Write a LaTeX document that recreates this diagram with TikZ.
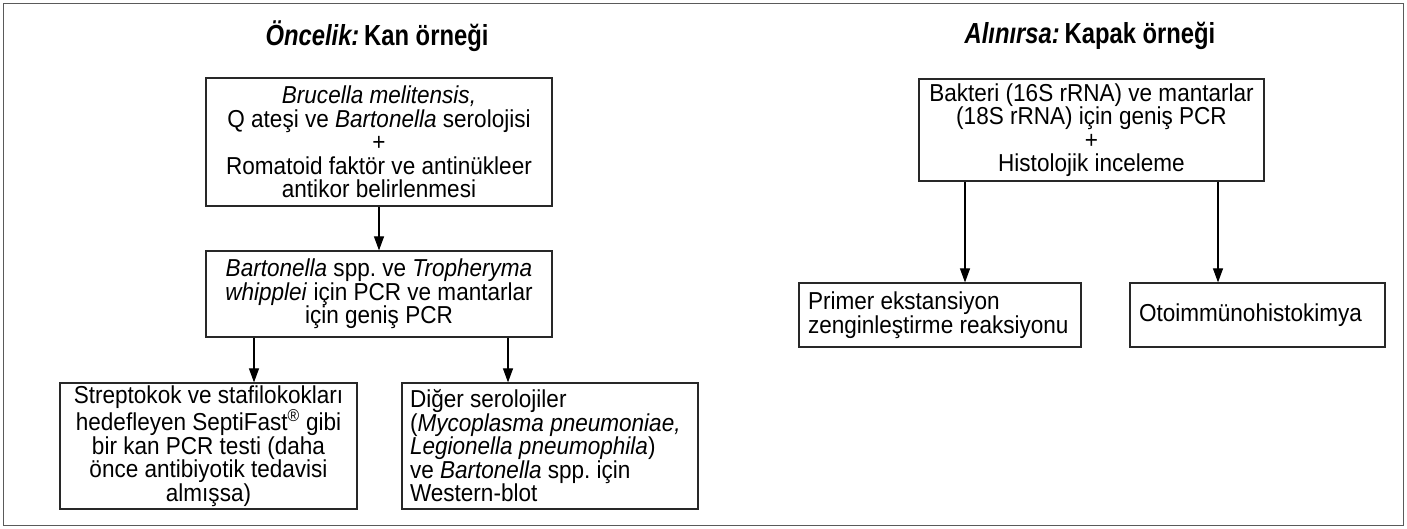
\documentclass[tikz,border=0pt]{standalone}
\usepackage{fontspec}
\setmainfont{Liberation Sans}[FakeStretch=0.92]
\newfontfamily\headfont{Liberation Sans}[FakeStretch=0.82]
\usetikzlibrary{arrows.meta}
\definecolor{framegray}{RGB}{90,90,90}
\definecolor{edgegray}{RGB}{40,40,40}
\hyphenpenalty=10000
\frenchspacing
\begin{document}
\begin{tikzpicture}[x=1pt,y=-1pt,
  box/.style={draw=edgegray, line width=1.2pt, inner ysep=0pt,
    font=\fontsize{24.5}{23.5}\selectfont},
  ctr/.style={box, align=center, inner xsep=4pt},
  lft/.style={box, align=flush left, inner xsep=8pt},
  title/.style={font=\headfont\fontsize{29}{32}\selectfont\bfseries, inner sep=0pt},
  arr/.style={draw=black, line width=1.1pt, -{Triangle[length=14pt,width=10pt]}}
]
\useasboundingbox (0,0) rectangle (1407,529);
\draw[framegray, line width=1.6pt] (3.5,3.5) rectangle (1403.5,525.5);

% left column: blood sample
\node[title] (t1) at (377,36) {\textit{Öncelik:}\,Kan örneği};

\node[ctr, minimum width=346pt, minimum height=128pt] (b1) at (379,142)
  {\textit{Brucella melitensis,}\\
   Q ateşi ve \textit{Bartonella} serolojisi\\
   +\\
   Romatoid faktör ve antinükleer\\
   antikor belirlenmesi};

\node[ctr, minimum width=346pt, minimum height=86pt] (b2) at (379,294)
  {\textit{Bartonella} spp. ve \textit{Tropheryma}\\
   \textit{whipplei} için PCR ve mantarlar\\
   için geniş PCR};

\node[ctr, minimum width=297pt, minimum height=126pt] (b3) at (208.5,446)
  {Streptokok ve stafilokokları\\
   hedefleyen SeptiFast\textsuperscript{®} gibi\\
   bir kan PCR testi (daha\\
   önce antibiyotik tedavisi\\
   almışsa)};

\node[lft, text width=280pt, minimum height=126pt] (b4) at (550,446)
  {Diğer serolojiler\\
   (\textit{Mycoplasma pneumoniae,}\\
   \textit{Legionella pneumophila})\\
   ve \textit{Bartonella} spp. için\\
   Western-blot};

% right column: valve sample
\node[title] (t2) at (1090,36) {\textit{Alınırsa:}\,Kapak örneği};

\node[ctr, minimum width=345pt, minimum height=102pt] (b5) at (1091.5,130)
  {Bakteri (16S rRNA) ve mantarlar\\
   (18S rRNA) için geniş PCR\\
   +\\
   Histolojik inceleme};

\node[lft, inner xsep=9pt, text width=264pt, minimum height=64pt] (b6) at (940,315)
  {Primer ekstansiyon\\
   zenginleştirme reaksiyonu};

\node[lft, inner xsep=9pt, text width=237pt, minimum height=64pt] (b7) at (1257.5,315)
  {Otoimmünohistokimya};

% arrow columns
\coordinate (xa) at (254,0);
\coordinate (xb) at (508,0);
\coordinate (xc) at (965,0);
\coordinate (xd) at (1218,0);

\draw[arr] (b1.south) -- (b2.north);
\draw[arr] (b2.south -| xa) -- (b3.north -| xa);
\draw[arr] (b2.south -| xb) -- (b4.north -| xb);
\draw[arr] (b5.south -| xc) -- (b6.north -| xc);
\draw[arr] (b5.south -| xd) -- (b7.north -| xd);
\end{tikzpicture}
\end{document}
